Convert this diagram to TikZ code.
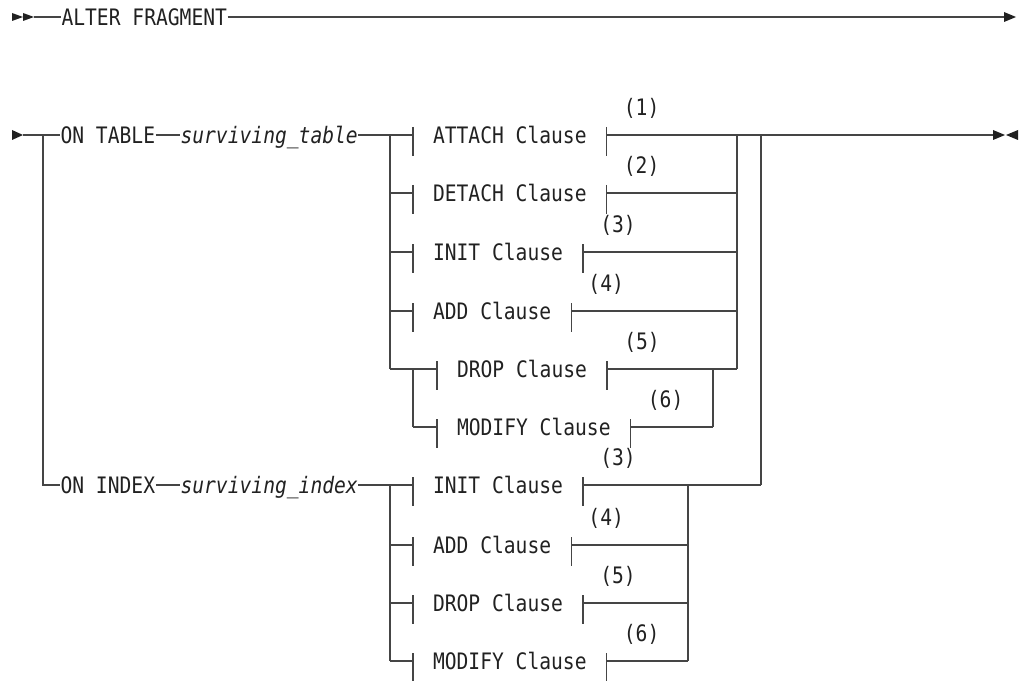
\documentclass[tikz,border=0pt]{standalone}
\usepackage{fontspec}
\newfontfamily\railfont[FakeStretch=0.866]{DejaVu Sans Mono}
\usepackage{tikz}
\usetikzlibrary{calc,positioning}
\definecolor{railgray}{rgb}{0.27,0.27,0.27}
\definecolor{inkgray}{rgb}{0.13,0.13,0.13}

\begin{document}
\begin{tikzpicture}[x=0.75pt,y=-0.75pt,line width=0.8pt,
    every node/.style={font=\railfont\fontsize{17}{20}\selectfont,text=inkgray,inner sep=0pt},
    rail/.style={draw=railgray},
    kw/.style={anchor=west,text height=12.4pt,text depth=0pt},
    clause/.style={kw,inner xsep=14.6pt},
    note/.style={text height=12.4pt,text depth=0pt},
    tip/.style={fill=inkgray}]
\useasboundingbox (0,0) rectangle (1021,681);

% first line
\fill[tip] (12,13) -- (23,17) -- (12,21) -- cycle;
\fill[tip] (23,13) -- (34,17) -- (23,21) -- cycle;
\coordinate (start0) at (34,17);
\coordinate (end0) at (1004,17);
\node[kw] (alter) at (61,17) {ALTER FRAGMENT};
\draw[rail] (start0) -- (alter.west);
\draw[rail] (alter.east) -- (end0);
\fill[tip] (1004,12) -- (1016,17) -- (1004,22) -- cycle;

% second line
\fill[tip] (12,130) -- (23,135) -- (12,140) -- cycle;
\coordinate (in1) at (23,135);
\coordinate (split1) at (43,135);
\node[kw] (ontable) at (60,135) {ON TABLE};
\node[kw] (svtable) at (180,135) {\itshape surviving\_table};
\node[kw] (onindex) at (60,485) {ON INDEX};
\node[kw] (svindex) at (180,485) {\itshape surviving\_index};
\coordinate (split2) at (43,485);

\coordinate (rtl) at (390,135);
\coordinate (rtsub) at (413,369);
\coordinate (rtin) at (737,135);
\coordinate (rtout) at (761,135);
\coordinate (rtdrop) at (713,369);
\coordinate (ril) at (390,485);
\coordinate (rir) at (688,485);
\coordinate (out1) at (993,135);

% clauses
\foreach \nm/\txt/\row/\lx/\num/\lr/\rr in {
    tattach/ATTACH/135/413/1/rtl/rtin,
    tdetach/DETACH/193/413/2/rtl/rtin,
    tinit/INIT/252/413/3/rtl/rtin,
    tadd/ADD/311/413/4/rtl/rtin,
    tdrop/DROP/369/437/5/rtl/rtdrop,
    tmodify/MODIFY/427/437/6/rtsub/rtdrop,
    iinit/INIT/485/413/3/ril/rtout,
    iadd/ADD/545/413/4/ril/rir,
    idrop/DROP/603/413/5/ril/rir,
    imodify/MODIFY/661/413/6/ril/rir}{
  \node[clause] (\nm) at (\lx,\row) {\txt\ Clause};
  \draw[rail] ($(\nm.west)+(0,-8)$) -- ($(\nm.west)+(0,21)$);
  \draw[rail] ($(\nm.east)+(0,-8)$) -- ($(\nm.east)+(0,21)$);
  \node[note] (n\nm) at ($(\nm.east)+(35,-28)$) {(\num)};
  \draw[rail] (\lr |- \nm.west) -- (\nm.west);
  \draw[rail] (\nm.east) -- (\rr |- \nm.east);
}
\draw[rail] (tdrop.east) -- (rtin |- tdrop.east);

% rails
\draw[rail] (in1) -- (ontable.west);
\draw[rail] (ontable.east) -- (svtable.west);
\draw[rail] (svtable.east) -- (rtl);
\draw[rail] (split1) -- (split2) -- (onindex.west);
\draw[rail] (onindex.east) -- (svindex.west);
\draw[rail] (svindex.east) -- (ril);
\draw[rail] (rtl) -- (rtl |- tdrop.west);
\draw[rail] (rtsub) -- (rtsub |- tmodify.west);
\draw[rail] (rtin) -- (rtin |- tdrop.east);
\draw[rail] (rtdrop) -- (rtdrop |- tmodify.east);
\draw[rail] (rtout) -- (rtout |- iinit.east);
\draw[rail] (ril) -- (ril |- imodify.west);
\draw[rail] (rir) -- (rir |- imodify.east);
\draw[rail] (tattach.east) -- (out1);
\fill[tip] (993,130) -- (1005,135) -- (993,140) -- cycle;
\fill[tip] (1018,130) -- (1006,135) -- (1018,140) -- cycle;
\end{tikzpicture}
\end{document}
